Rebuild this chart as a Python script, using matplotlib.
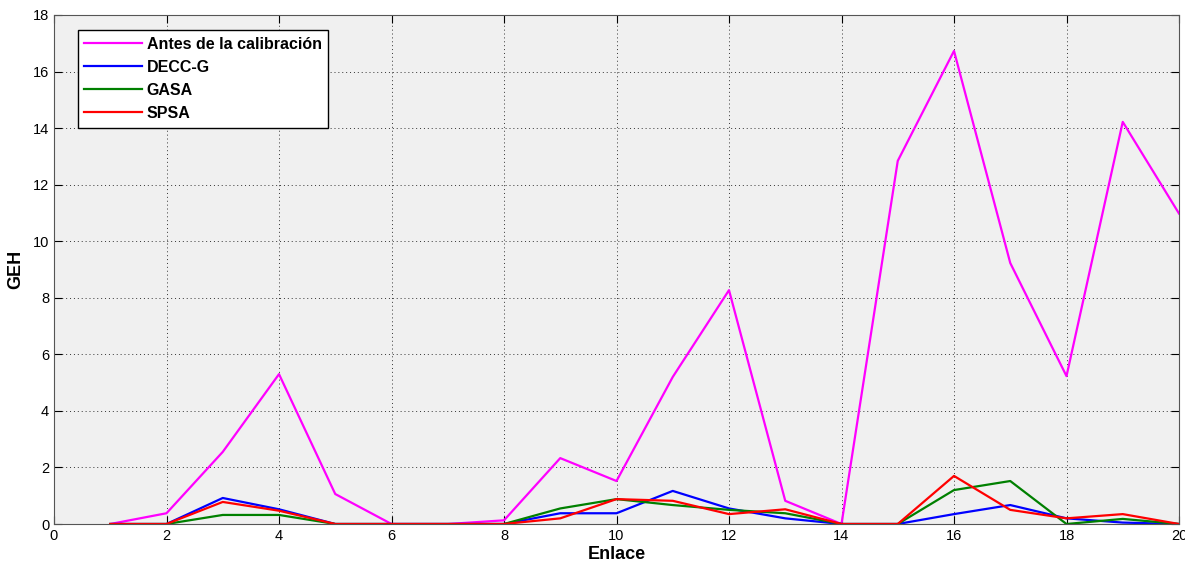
import matplotlib
matplotlib.use("Agg")
import matplotlib.pyplot as plt
import numpy as np

plt.rcParams['font.family'] = ['Liberation Sans', 'DejaVu Sans']

enlace = np.arange(1, 21)
antes = [0, 0.38, 2.55, 5.3, 1.06, 0, 0, 0.13, 2.33, 1.52,
         5.2, 8.27, 0.82, 0, 12.84, 16.73, 9.23, 5.23, 14.22, 10.98]
decc_g = [0, 0, 0.92, 0.52, 0, 0, 0, 0, 0.38, 0.38,
          1.17, 0.55, 0.2, 0, 0, 0.35, 0.67, 0.2, 0.05, 0]
gasa = [0, 0, 0.32, 0.32, 0, 0, 0, 0, 0.55, 0.88,
        0.67, 0.5, 0.38, 0, 0, 1.2, 1.52, 0, 0.18, 0]
spsa = [0, 0, 0.78, 0.47, 0, 0, 0, 0, 0.2, 0.88,
        0.82, 0.35, 0.52, 0, 0, 1.7, 0.5, 0.2, 0.35, 0]

fig = plt.figure(figsize=(11.85, 5.67), dpi=100)
ax = fig.add_axes([54 / 1185, 1 - 524 / 567, 1125 / 1185, 509 / 567])
ax.set_facecolor('#f0f0f0')

ax.plot(enlace, antes, color='#ff00ff', lw=1.6, label='Antes de la calibración')
ax.plot(enlace, decc_g, color='#0000ff', lw=1.6, label='DECC-G')
ax.plot(enlace, gasa, color='#008000', lw=1.6, label='GASA')
ax.plot(enlace, spsa, color='#ff0000', lw=1.6, label='SPSA')

ax.set_xlim(0, 20)
ax.set_ylim(0, 18)
ax.set_xticks(np.arange(0, 21, 2))
ax.set_yticks(np.arange(0, 19, 2))
ax.grid(True, linestyle=(0, (1, 3)), color='#333333', linewidth=0.7)
ax.tick_params(direction='in', top=True, right=True, length=6, labelsize=10.5)
for s in ax.spines.values():
    s.set_color('#555555')

ax.set_xlabel('Enlace', fontsize=13, fontweight='bold', labelpad=2)
ax.set_ylabel('GEH', fontsize=13, fontweight='bold', labelpad=6)

leg = ax.legend(loc='upper left', bbox_to_anchor=(0.021, 0.97), fancybox=False,
                framealpha=1, edgecolor='black', prop={'weight': 'bold', 'size': 11.5},
                handlelength=3.6, handletextpad=0.3, labelspacing=0.5,
                borderpad=0.42, borderaxespad=0)
leg.get_frame().set_linewidth(1.0)

fig.savefig('out.png', dpi=100)
